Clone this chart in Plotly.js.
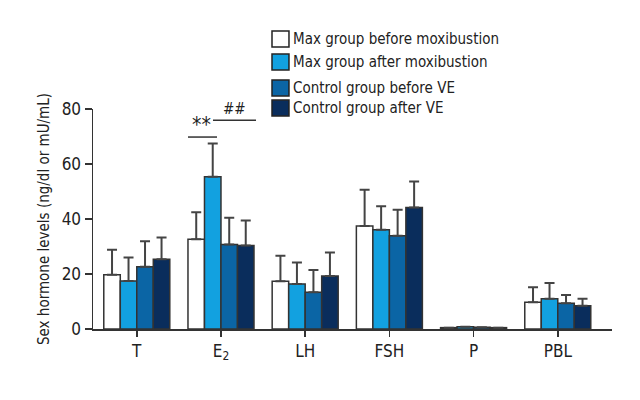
<!DOCTYPE html>
<html>
<head>
<meta charset="utf-8">
<script src="https://cdn.plot.ly/plotly-3.0.1.min.js"></script>
<style>html,body{margin:0;padding:0;background:#fff;}#chart{width:640px;height:400px;}</style>
</head>
<body>
<div id="chart"></div>
<script>
const categories = ["T", "E<sub>2</sub>", "LH", "FSH", "P", "PBL"];
const seriesNames = ["Max group before moxibustion", "Max group after moxibustion", "Control group before VE", "Control group after VE"];
const maxBefore = [19.7, 32.6, 17.4, 37.5, 0.5, 9.7];
const maxAfter = [17.5, 55.4, 16.4, 36.1, 0.8, 11.0];
const ctrlBefore = [22.6, 30.7, 13.4, 33.9, 0.6, 9.4];
const ctrlAfter = [25.4, 30.4, 19.3, 44.2, 0.5, 8.5];
const maxBeforeSD = [9.1, 9.9, 9.2, 13.1, 0, 5.5];
const maxAfterSD = [8.5, 12.1, 7.8, 8.5, 0, 5.7];
const ctrlBeforeSD = [9.3, 9.8, 8.1, 9.5, 0, 3.0];
const ctrlAfterSD = [7.9, 9.1, 8.5, 9.4, 0, 2.5];
const colors = ["#ffffff", "#12a1e0", "#0b65a5", "#0a2d5c"];

const values = [maxBefore, maxAfter, ctrlBefore, ctrlAfter];
const sds = [maxBeforeSD, maxAfterSD, ctrlBeforeSD, ctrlAfterSD];
const xIdx = categories.map((c, i) => i);
const FONT = "'DejaVu Sans Condensed', 'Liberation Sans Narrow', Arial, sans-serif";

const traces = values.map((v, k) => ({
  type: "bar",
  name: seriesNames[k],
  x: xIdx,
  y: v,
  marker: {color: colors[k], line: {color: "#333333", width: 1.5}},
  error_y: {type: "data", symmetric: false, array: sds[k], arrayminus: v.map(() => 0),
            color: "#444444", thickness: 2, width: 5, visible: true}
}));

// manual legend (paper coordinates)
const legendRows = [1.318, 1.2136, 1.0955, 1.0045];
const legX0 = 0.3449, legX1 = 0.3776, legTextX = 0.382, boxHalf = 0.036;
const shapes = [
  {type: "line", xref: "x", yref: "y", x0: 0.608, x1: 0.953, y0: 69.8, y1: 69.8, line: {color: "#333333", width: 1.5}},
  {type: "line", xref: "x", yref: "y", x0: 0.905, x1: 1.416, y0: 75.9, y1: 75.9, line: {color: "#333333", width: 1.5}}
];
const annotations = [
  {xref: "x", yref: "y", x: 0.765, y: 69.2, text: "**", showarrow: false, yanchor: "bottom", font: {family: FONT, size: 21, color: "#222222"}},
  {xref: "x", yref: "y", x: 1.16, y: 75.9, text: "##", showarrow: false, yanchor: "bottom", font: {family: FONT, size: 15, color: "#222222"}}
];
seriesNames.forEach((name, k) => {
  shapes.push({type: "rect", xref: "paper", yref: "paper", x0: legX0, x1: legX1,
    y0: legendRows[k] - boxHalf, y1: legendRows[k] + boxHalf,
    fillcolor: colors[k], line: {color: "#222222", width: 1.5}});
  annotations.push({xref: "paper", yref: "paper", x: legTextX, y: legendRows[k], xanchor: "left", yanchor: "middle",
    text: name, showarrow: false, font: {family: FONT, size: 15, color: "#222222"}});
});

const layout = {
  width: 640, height: 400,
  margin: {l: 93, r: 28, t: 109, b: 71},
  paper_bgcolor: "#ffffff", plot_bgcolor: "#ffffff",
  barmode: "group", bargap: 0.216, bargroupgap: 0,
  font: {family: FONT, color: "#222222", size: 16},
  showlegend: false,
  xaxis: {
    range: [-0.52, 5.644], tickmode: "array", tickvals: xIdx, ticktext: categories,
    showgrid: false, zeroline: false, showline: true, linecolor: "#333333", linewidth: 1.5,
    ticks: "outside", ticklen: 6, tickwidth: 1.5, tickcolor: "#333333",
    tickfont: {family: FONT, size: 17, color: "#222222"}
  },
  yaxis: {
    range: [0, 80], tickvals: [0, 20, 40, 60, 80],
    showgrid: false, zeroline: false, showline: true, linecolor: "#333333", linewidth: 1.5,
    ticks: "outside", ticklen: 7, tickwidth: 1.5, tickcolor: "#333333",
    tickfont: {family: FONT, size: 17, color: "#222222"},
    title: {text: "Sex hormone levels (ng/dl or mU/mL)", font: {family: FONT, size: 15, color: "#222222"}, standoff: 8}
  },
  shapes: shapes,
  annotations: annotations
};

Plotly.newPlot("chart", traces, layout, {displayModeBar: false, staticPlot: true});
</script>
</body>
</html>
